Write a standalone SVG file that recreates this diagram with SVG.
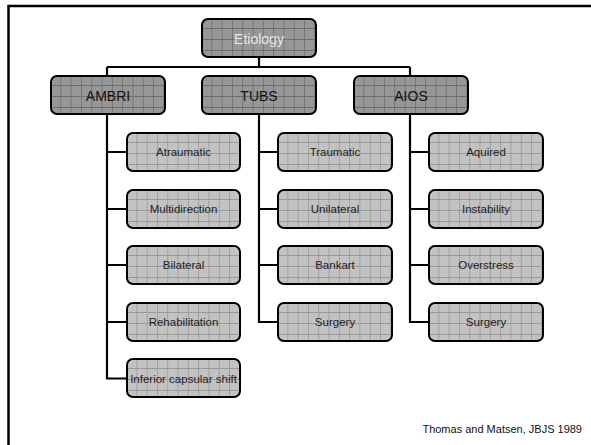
<svg xmlns="http://www.w3.org/2000/svg" width="591" height="445" viewBox="0 0 591 445">
<defs>
<pattern id="dith" width="2" height="2" patternUnits="userSpaceOnUse">
<rect width="2" height="2" fill="#cdcdcd"/><rect width="1" height="1" fill="#b8b8b8"/><rect x="1" y="1" width="1" height="1" fill="#b8b8b8"/>
</pattern>
<pattern id="ditd" width="2" height="2" patternUnits="userSpaceOnUse">
<rect width="2" height="2" fill="#a2a2a2"/><rect width="1" height="1" fill="#8c8c8c"/><rect x="1" y="1" width="1" height="1" fill="#8c8c8c"/>
</pattern>
<pattern id="gl" width="10.3" height="11" y="9" patternUnits="userSpaceOnUse">
<rect width="10.3" height="11" fill="url(#dith)"/>
<path d="M10 0V11M0 0.5H10.3" stroke="#9a9a9a" stroke-width="1" fill="none"/>
</pattern>
<pattern id="gd" width="10.3" height="11" y="9" patternUnits="userSpaceOnUse">
<rect width="10.3" height="11" fill="url(#ditd)"/>
<path d="M10 0V11M0 0.5H10.3" stroke="#6e6e6e" stroke-width="1" fill="none"/>
</pattern>
</defs>
<style>
.frame{stroke:#000;stroke-width:2.5;fill:none}
.conn{stroke:#000;stroke-width:2.2;fill:none}
.bl{fill:url(#gl);stroke:#000;stroke-width:2}
.bd{fill:url(#gd);stroke:#000;stroke-width:2}
text{font-family:"Liberation Sans",Arial,sans-serif;text-anchor:middle}
.t1{font-size:14px;fill:#111}
.t0{font-size:14px;fill:#e6e6e6}
.t2{font-size:11.5px;fill:#222}
.cite{font-size:11px;fill:#111;text-anchor:end}
</style>
<g id="frame"><path class="frame" d="M8.5 445V6H591"/></g>
<g id="connectors">
<path class="conn" d="M259 57V67M107 67H410M107 67V76M410 67V76"/>
<path class="conn" d="M107 114V378.5H127M107 152H127M107 209H127M107 265H127M107 322H127"/>
<path class="conn" d="M259 114V322H278M259 152H278M259 209H278M259 265H278"/>
<path class="conn" d="M410 114V322H429M410 152H429M410 209H429M410 265H429"/>
</g>
<g id="etiology" transform="translate(202,19)"><rect class="bd" width="114" height="38" rx="6"/><text class="t0" x="57" y="25">Etiology</text></g>
<g id="ambri" transform="translate(51,76)"><rect class="bd" width="114" height="38" rx="6"/><text class="t1" x="57" y="24.5">AMBRI</text></g>
<g id="tubs" transform="translate(202,76)"><rect class="bd" width="114" height="38" rx="6"/><text class="t1" x="57" y="24.5">TUBS</text></g>
<g id="aios" transform="translate(354,76)"><rect class="bd" width="114" height="38" rx="6"/><text class="t1" x="57" y="24.5">AIOS</text></g>
<g id="atraumatic" transform="translate(127,133)"><rect class="bl" width="113" height="38" rx="6"/><text class="t2" x="56.5" y="23">Atraumatic</text></g>
<g id="multidirection" transform="translate(127,190)"><rect class="bl" width="113" height="38" rx="6"/><text class="t2" x="56.5" y="23">Multidirection</text></g>
<g id="bilateral" transform="translate(127,246)"><rect class="bl" width="113" height="38" rx="6"/><text class="t2" x="56.5" y="23">Bilateral</text></g>
<g id="rehabilitation" transform="translate(127,303)"><rect class="bl" width="113" height="38" rx="6"/><text class="t2" x="56.5" y="23">Rehabilitation</text></g>
<g id="inferior" transform="translate(127,359)"><rect class="bl" width="113" height="38" rx="6"/><text class="t2" x="56.5" y="23.5">Inferior capsular shift</text></g>
<g id="traumatic" transform="translate(278,133)"><rect class="bl" width="114" height="38" rx="6"/><text class="t2" x="57" y="23">Traumatic</text></g>
<g id="unilateral" transform="translate(278,190)"><rect class="bl" width="114" height="38" rx="6"/><text class="t2" x="57" y="23">Unilateral</text></g>
<g id="bankart" transform="translate(278,246)"><rect class="bl" width="114" height="38" rx="6"/><text class="t2" x="57" y="23">Bankart</text></g>
<g id="surgery1" transform="translate(278,303)"><rect class="bl" width="114" height="38" rx="6"/><text class="t2" x="57" y="23">Surgery</text></g>
<g id="aquired" transform="translate(429,133)"><rect class="bl" width="114" height="38" rx="6"/><text class="t2" x="57" y="23">Aquired</text></g>
<g id="instability" transform="translate(429,190)"><rect class="bl" width="114" height="38" rx="6"/><text class="t2" x="57" y="23">Instability</text></g>
<g id="overstress" transform="translate(429,246)"><rect class="bl" width="114" height="38" rx="6"/><text class="t2" x="57" y="23">Overstress</text></g>
<g id="surgery2" transform="translate(429,303)"><rect class="bl" width="114" height="38" rx="6"/><text class="t2" x="57" y="23">Surgery</text></g>
<text class="cite" x="582" y="433">Thomas and Matsen, JBJS 1989</text>
</svg>
